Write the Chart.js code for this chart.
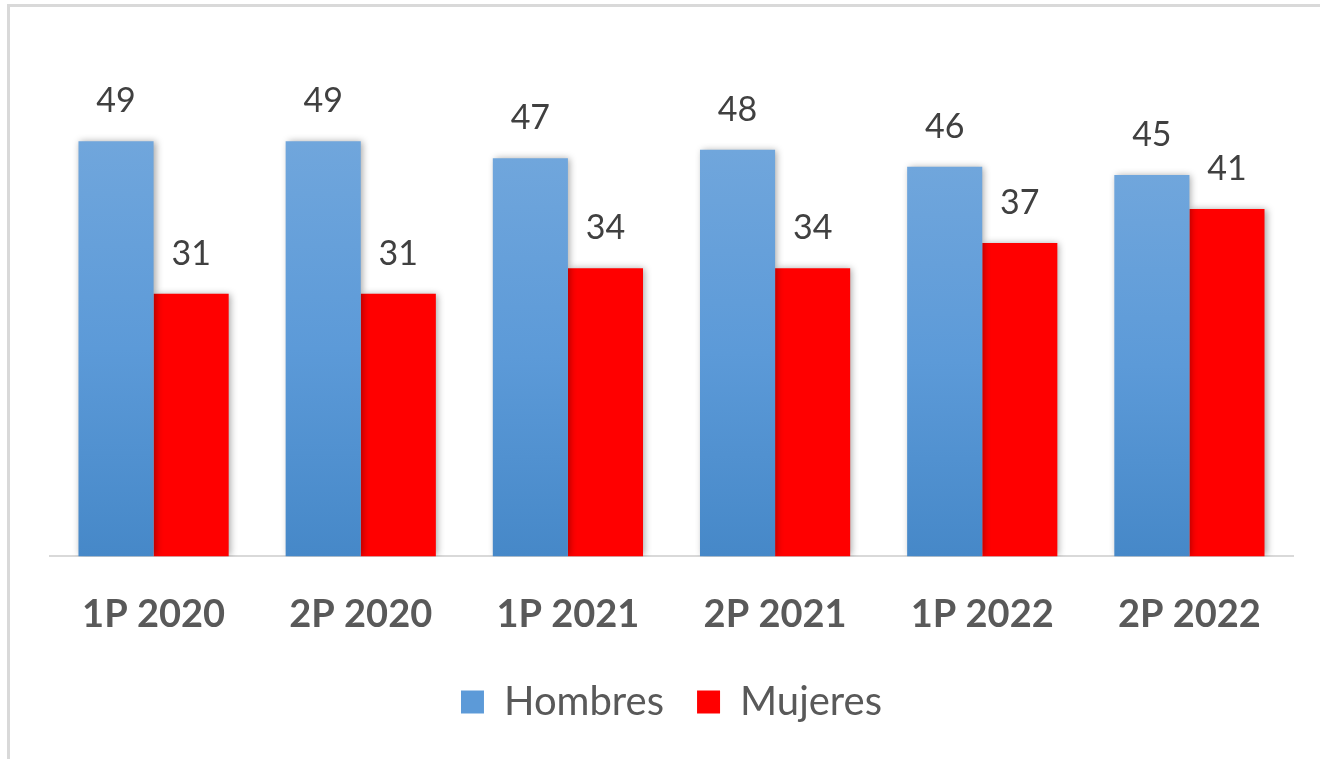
<!DOCTYPE html>
<html>
<head>
<meta charset="utf-8">
<script src="https://cdn.jsdelivr.net/npm/chart.js@4.4.1/dist/chart.umd.min.js"></script>
<style>
  html, body { margin: 0; padding: 0; background: #fff; }
  #wrap { position: relative; width: 1320px; height: 759px; overflow: hidden; }
  #frame { position: absolute; left: 7px; top: 4px; width: 1330px; height: 800px; border-left: 3px solid #d9d9d9; border-top: 3px solid #d9d9d9; box-sizing: border-box; }
  canvas { position: absolute; left: 0; top: 0; }
</style>
</head>
<body>
<div id="wrap">
  <div id="frame"></div>
  <canvas id="c" width="1320" height="759"></canvas>
</div>
<script>
const categories = ['1P 2020', '2P 2020', '1P 2021', '2P 2021', '1P 2022', '2P 2022'];
const hombres = [49, 49, 47, 48, 46, 45];
const mujeres = [31, 31, 34, 34, 37, 41];
const seriesNames = ['Hombres', 'Mujeres'];

const FONT = 'Lato, "Open Sans", sans-serif';

function blueGradient(ctx) {
  const chart = ctx.chart;
  const y = chart.scales && chart.scales.y;
  if (!y || ctx.raw === undefined || !chart.chartArea) return '#5b9bd5';
  const top = y.getPixelForValue(ctx.raw);
  const bottom = y.getPixelForValue(0);
  const g = chart.ctx.createLinearGradient(0, top, 0, bottom);
  g.addColorStop(0, '#70a6dc');
  g.addColorStop(0.5, '#5c9ad8');
  g.addColorStop(1, '#4688c8');
  return g;
}

const shadowPlugin = {
  id: 'barShadow',
  beforeDatasetsDraw(chart) {
    const c = chart.ctx;
    c.save();
    c.shadowColor = 'rgba(0,0,0,0.35)';
    c.shadowBlur = 7;
    c.shadowOffsetX = 2;
    c.shadowOffsetY = 0;
  },
  afterDatasetsDraw(chart) {
    chart.ctx.restore();
  }
};

const labelPlugin = {
  id: 'valueLabels',
  afterDatasetsDraw(chart) {
    const c = chart.ctx;
    c.save();
    c.font = '34px ' + FONT;
    c.fillStyle = '#404040';
    c.textAlign = 'center';
    c.textBaseline = 'middle';
    chart.data.datasets.forEach((ds, di) => {
      const meta = chart.getDatasetMeta(di);
      meta.data.forEach((bar, i) => {
        c.fillText(String(ds.data[i]), bar.x, bar.y - 40);
      });
    });
    c.restore();
  }
};

new Chart(document.getElementById('c'), {
  type: 'bar',
  data: {
    labels: categories,
    datasets: [
      { label: seriesNames[0], data: hombres, backgroundColor: blueGradient, borderWidth: 0 },
      { label: seriesNames[1], data: mujeres, backgroundColor: '#ff0000', borderWidth: 0 }
    ]
  },
  options: {
    responsive: false,
    animation: false,
    devicePixelRatio: 1,
    layout: { padding: { left: 50, right: 27, top: 48, bottom: 27 } },
    datasets: { bar: { categoryPercentage: 0.725, barPercentage: 1.0 } },
    scales: {
      x: {
        grid: { display: false, drawTicks: false },
        border: { display: true, color: '#d9d9d9', width: 2 },
        ticks: { padding: 36, color: '#595959', font: { family: FONT, size: 38, weight: 'bold' } },
        afterFit(scale) { scale.height -= 25; }
      },
      y: { display: false, min: 0, max: 60 }
    },
    plugins: {
      legend: {
        position: 'bottom',
        labels: {
          boxWidth: 23, boxHeight: 23, padding: 33,
          color: '#595959',
          font: { family: FONT, size: 40 },
          generateLabels(chart) {
            return chart.data.datasets.map((ds, i) => ({
              text: ds.label,
              fillStyle: i === 0 ? '#5c9ad8' : '#ff0000',
              strokeStyle: 'transparent',
              lineWidth: 0,
              hidden: false,
              datasetIndex: i,
              fontColor: '#595959'
            }));
          }
        }
      },
      tooltip: { enabled: false }
    }
  },
  plugins: [shadowPlugin, labelPlugin]
});
</script>
</body>
</html>
